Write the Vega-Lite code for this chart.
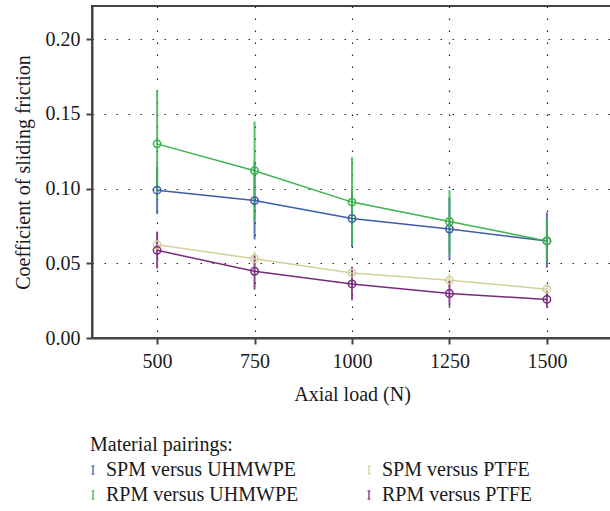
{
  "$schema": "https://vega.github.io/schema/vega-lite/v6.json",
  "width": 520,
  "height": 332,
  "autosize": {"type": "none"},
  "padding": {"left": 92, "top": 6, "right": 0, "bottom": 173},
  "background": "white",
  "config": {
    "view": {"stroke": "#444", "strokeWidth": 2},
    "font": "Liberation Serif",
    "axis": {
      "domainColor": "#444", "domainWidth": 2,
      "tickColor": "#444", "tickWidth": 2, "tickSize": 6,
      "labelFont": "Liberation Serif", "labelFontSize": 20, "labelColor": "#1a1a1a",
      "titleFont": "Liberation Serif", "titleFontSize": 20, "titleFontWeight": "normal", "titleColor": "#1a1a1a",
      "grid": true, "gridDash": [1.5, 10.5], "gridColor": "#222", "gridWidth": 1.2
    }
  },
  "data": {
    "values": [
      {"load": 500, "pair": "SPM versus UHMWPE", "mean": 0.099, "lo": 0.083, "hi": 0.115},
      {"load": 750, "pair": "SPM versus UHMWPE", "mean": 0.092, "lo": 0.066, "hi": 0.118},
      {"load": 1000, "pair": "SPM versus UHMWPE", "mean": 0.080, "lo": 0.061, "hi": 0.099},
      {"load": 1250, "pair": "SPM versus UHMWPE", "mean": 0.073, "lo": 0.052, "hi": 0.094},
      {"load": 1500, "pair": "SPM versus UHMWPE", "mean": 0.065, "lo": 0.047, "hi": 0.084},
      {"load": 500, "pair": "RPM versus UHMWPE", "mean": 0.130, "lo": 0.093, "hi": 0.166},
      {"load": 750, "pair": "RPM versus UHMWPE", "mean": 0.112, "lo": 0.079, "hi": 0.145},
      {"load": 1000, "pair": "RPM versus UHMWPE", "mean": 0.091, "lo": 0.062, "hi": 0.121},
      {"load": 1250, "pair": "RPM versus UHMWPE", "mean": 0.078, "lo": 0.056, "hi": 0.099},
      {"load": 1500, "pair": "RPM versus UHMWPE", "mean": 0.065, "lo": 0.051, "hi": 0.079},
      {"load": 500, "pair": "SPM versus PTFE", "mean": 0.0624, "lo": 0.054, "hi": 0.071},
      {"load": 750, "pair": "SPM versus PTFE", "mean": 0.0531, "lo": 0.048, "hi": 0.058},
      {"load": 1000, "pair": "SPM versus PTFE", "mean": 0.0436, "lo": 0.039, "hi": 0.048},
      {"load": 1250, "pair": "SPM versus PTFE", "mean": 0.0387, "lo": 0.034, "hi": 0.043},
      {"load": 1500, "pair": "SPM versus PTFE", "mean": 0.0327, "lo": 0.0295, "hi": 0.036},
      {"load": 500, "pair": "RPM versus PTFE", "mean": 0.0587, "lo": 0.0466, "hi": 0.0712},
      {"load": 750, "pair": "RPM versus PTFE", "mean": 0.0447, "lo": 0.0324, "hi": 0.056},
      {"load": 1000, "pair": "RPM versus PTFE", "mean": 0.0362, "lo": 0.0253, "hi": 0.0476},
      {"load": 1250, "pair": "RPM versus PTFE", "mean": 0.0298, "lo": 0.0213, "hi": 0.0387},
      {"load": 1500, "pair": "RPM versus PTFE", "mean": 0.0258, "lo": 0.0204, "hi": 0.0313}
    ]
  },
  "encoding": {
    "x": {
      "field": "load", "type": "quantitative",
      "scale": {"domain": [333, 1667], "nice": false, "zero": false},
      "axis": {"values": [500, 750, 1000, 1250, 1500], "format": "d", "title": "Axial load (N)", "labelPadding": 7, "titlePadding": 13}
    },
    "color": {
      "field": "pair", "type": "nominal",
      "scale": {
        "domain": ["SPM versus UHMWPE", "RPM versus UHMWPE", "SPM versus PTFE", "RPM versus PTFE"],
        "range": ["#3f5ca8", "#3cb44c", "#d4d09c", "#7a2a7c"]
      },
      "legend": {
        "title": "Material pairings:",
        "orient": "none", "legendX": -2, "legendY": 429,
        "columns": 2, "columnPadding": 65, "rowPadding": 5, "labelLimit": 400,
        "titleFont": "Liberation Serif", "titleFontSize": 20, "titleFontWeight": "normal", "titleColor": "#1a1a1a", "titlePadding": 5,
        "labelFont": "Liberation Serif", "labelFontSize": 20, "labelColor": "#1a1a1a", "labelOffset": 3,
        "symbolOffset": -7,
        "symbolType": "M-0.35,-1H0.35M0,-1V1M-0.35,1H0.35",
        "symbolSize": 64, "symbolStrokeWidth": 1.5, "symbolFillColor": "transparent"
      }
    }
  },
  "layer": [
    {
      "mark": {"type": "rule", "strokeWidth": 2, "opacity": 0.85},
      "encoding": {
        "y": {"field": "lo", "type": "quantitative"},
        "y2": {"field": "hi"}
      }
    },
    {
      "mark": {"type": "line", "strokeWidth": 1.5},
      "encoding": {
        "y": {
          "field": "mean", "type": "quantitative",
          "scale": {"domain": [0, 0.2223], "nice": false},
          "axis": {"values": [0, 0.05, 0.1, 0.15, 0.2], "format": ".2f", "title": "Coefficient of sliding friction", "labelPadding": 6, "titlePadding": 12}
        }
      }
    },
    {
      "mark": {"type": "point", "filled": false, "size": 55, "strokeWidth": 1.5, "opacity": 1},
      "encoding": {
        "y": {"field": "mean", "type": "quantitative"}
      }
    }
  ]
}
